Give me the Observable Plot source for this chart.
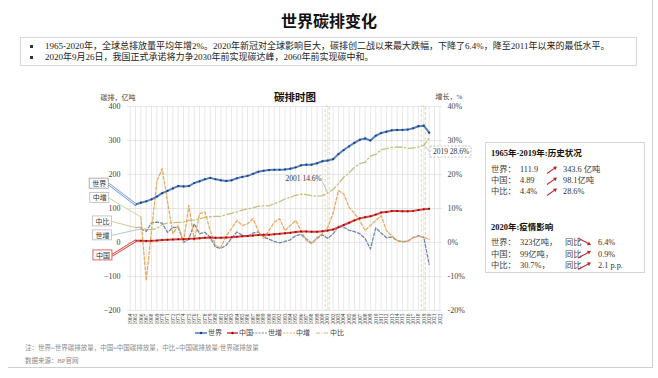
<!DOCTYPE html>
<html><head><meta charset="utf-8">
<script src="https://cdn.jsdelivr.net/npm/d3@7"></script>
<script src="https://cdn.jsdelivr.net/npm/@observablehq/plot@0.6"></script>
<style>
body{margin:0;background:#fff;width:658px;height:378px;position:relative;overflow:hidden;font-family:'Liberation Serif','Noto Sans CJK SC',serif;color:#222;}
.abs{position:absolute;white-space:nowrap;}
#chart{position:absolute;left:0;top:80px;}
</style></head><body>
<div id="chart"></div>
<script>
// ---------- data ----------
const years = [1965,1966,1967,1968,1969,1970,1971,1972,1973,1974,1975,1976,1977,1978,1979,1980,1981,1982,1983,1984,1985,1986,1987,1988,1989,1990,1991,1992,1993,1994,1995,1996,1997,1998,1999,2000,2001,2002,2003,2004,2005,2006,2007,2008,2009,2010,2011,2012,2013,2014,2015,2016,2017,2018,2019,2020];
const worldEmissions = [111.9,117,121,127,135,145,152,159,166,165,166,175,180,186,190,186,183,181,183,189,193,196,202,208,211,213,214,214,215,217,221,227,229,229,233,239,241,245,260,272,283,293,302,306,300,314,322,326,330,331,331,332,336,342,343.6,323];
const chinaEmissions = [4.89,5.3,4.6,4.8,5.6,7.4,8.3,8.8,9.2,9.4,10.9,11.3,12.5,14.0,14.4,14.3,14.1,14.9,15.7,17.0,18.4,19.4,20.7,22.3,22.8,23.1,24.4,25.6,27.5,28.9,30.8,32.3,32.3,31.6,31.8,32.9,35.2,38.2,44.5,51.5,58,65,71,74,77,82,88,90,92.3,92.6,92.1,91.7,93.0,95.7,98.1,99.0];
const chinaShare = [4.4,4.5,3.8,3.8,4.1,5.3,5.7,5.8,5.9,6.0,6.5,6.6,7.0,7.4,7.6,7.7,7.7,8.2,8.6,9.0,9.5,9.9,10.2,10.7,10.8,10.8,11.4,12.0,12.8,13.3,13.9,14.2,14.1,13.8,13.6,13.8,14.6,15.6,17.3,19.2,20.5,22.1,23.2,23.6,25.4,25.9,27.3,27.6,28.0,28.1,28.0,27.7,27.8,28.1,28.6,30.7];
const growthYears = [1966,1967,1968,1969,1970,1971,1972,1973,1974,1975,1976,1977,1978,1979,1980,1981,1982,1983,1984,1985,1986,1987,1988,1989,1990,1991,1992,1993,1994,1995,1996,1997,1998,1999,2000,2001,2002,2003,2004,2005,2006,2007,2008,2009,2010,2011,2012,2013,2014,2015,2016,2017,2018,2019,2020];
const worldGrowth = [4.0,3.3,5.8,6.0,5.7,3.0,4.4,4.5,0.0,1.0,5.5,2.6,3.0,1.5,-1.4,-1.7,-0.8,1.3,3.1,2.1,1.7,2.8,3.1,1.6,1.0,0.3,-0.1,0.3,0.8,2.0,2.4,1.0,-0.2,1.2,2.3,1.2,2.5,4.8,4.5,3.6,3.2,2.6,1.2,-1.9,4.3,2.8,1.4,1.6,0.6,0.2,0.4,1.4,2.0,1.5,-6.4];
const chinaGrowth = [7.5,-11.2,3.5,18.0,21.7,12.0,2.6,5.0,0.2,10.9,0.6,8.5,9.0,3.5,-0.9,-1.4,2.0,4.1,6.5,5.0,5.5,7.0,3.5,1.2,3.5,6.0,7.0,3.5,5.0,6.5,3.5,0.6,-0.4,1.5,2.6,4.5,8.5,15.3,14.3,10.4,8.6,6.5,3.5,5.0,6.5,7.9,3.5,2.0,0.6,0.3,0.4,1.4,1.8,1.6,0.9];
const leftTicks = [-200,-100,0,100,200,300,400];
const xTickYears = [1964,1965,1966,1967,1968,1969,1970,1971,1972,1973,1974,1975,1976,1977,1978,1979,1980,1981,1982,1983,1984,1985,1986,1987,1988,1989,1990,1991,1992,1993,1994,1995,1996,1997,1998,1999,2000,2001,2002,2003,2004,2005,2006,2007,2008,2009,2010,2011,2012,2013,2014,2015,2016,2017,2018,2019,2020,2021,2022];
const highlightYears = [2001, 2019];
const seriesNames = ["世界","中国","世增","中增","中比"];
const bulletLines = [
  "1965-2020年，全球总排放量平均年增2%。2020年新冠对全球影响巨大，碳排创二战以来最大跌幅，下降了6.4%，降至2011年以来的最低水平。",
  "2020年9月26日，我国正式承诺将力争2030年前实现碳达峰，2060年前实现碳中和。"
];
const histRows = [
  {label:"世界：", from:"111.9", to:"343.6 亿吨"},
  {label:"中国：", from:"4.89", to:"98.1亿吨"},
  {label:"中比：", from:"4.4%", to:"28.6%"}
];
const covidRows = [
  {label:"世界：", value:"323亿吨，", yoy:"同比", dir:"down", change:"6.4%"},
  {label:"中国：", value:"99亿吨，", yoy:"同比", dir:"up", change:"0.9%"},
  {label:"中比：", value:"30.7%，", yoy:"同比", dir:"up", change:"2.1 p.p."}
];

// ---------- helpers ----------
const PCT = 10; // right axis: 1% == 10 units of left axis
const col = {world:"#5383c2", worldDot:"#1f3f73", china:"#e8413c", chinaDot:"#6e1414", wg:"#6f86ad", cg:"#e9ab62", share:"#c8be80", hl:"#e2d593"};
const rows = years.map((year,i)=>({year, world:worldEmissions[i], china:chinaEmissions[i], share:chinaShare[i]*PCT}));
const growth = growthYears.map((year,i)=>({year, wg:worldGrowth[i]*PCT, cg:chinaGrowth[i]*PCT}));

const i2001 = years.indexOf(2001), i2019 = years.indexOf(2019);
const notes = [
  {text:`2001 ${chinaShare[i2001]}%`, tx:2001, ty:chinaShare[i2001]*PCT, lx:1996.5, ly:188, cx:2000.0, cy:179, box:false},
  {text:`2019 ${chinaShare[i2019]}%`, tx:2019, ty:chinaShare[i2019]*PCT, lx:2024.1, ly:266, cx:2020.2, cy:267, box:true}
];
const labels = [
  {text:"世界", lx:1958.2, ly:173, tx:years[0], ty:worldEmissions[0], stroke:"#7fa2d4", box:"#9a9a9a", dbl:true},
  {text:"中增", lx:1958.3, ly:131, tx:growthYears[0], ty:chinaGrowth[0]*PCT, stroke:"#ddc9a8", box:"#bbbbbb", dbl:false},
  {text:"中比", lx:1958.8, ly:62, tx:years[0], ty:chinaShare[0]*PCT, stroke:"#cfc894", box:"#bbbbbb", dbl:false},
  {text:"世增", lx:1958.8, ly:21, tx:growthYears[0], ty:worldGrowth[0]*PCT, stroke:"#b8c2d6", box:"#bbbbbb", dbl:false},
  {text:"中国", lx:1958.9, ly:-38, tx:years[0], ty:chinaEmissions[0], stroke:"#e04848", box:"#d04040", dbl:true}
];

const chart = Plot.plot({
  width: 480, height: 265,
  marginLeft: 127, marginRight: 38, marginTop: 26, marginBottom: 35,
  style: {background:"transparent", fontFamily:"'Liberation Serif','Noto Sans CJK SC',serif", overflow:"visible", color:"#444"},
  x: {domain:[1963.5, 2022.5]},
  y: {domain:[-200, 400]},
  marks: [
    Plot.gridX({ticks:xTickYears, stroke:"#d6d6d6", strokeOpacity:1, strokeWidth:0.6}),
    Plot.gridY({ticks:leftTicks, stroke:"#d6d6d6", strokeOpacity:1, strokeWidth:0.6}),
    Plot.axisY({ticks:leftTicks, anchor:"left", tickSize:0, tickPadding:7, fontSize:8, label:null}),
    Plot.axisY({ticks:leftTicks, anchor:"right", tickSize:0, tickPadding:5, fontSize:8, label:null, tickFormat:d=>(d/PCT)+"%"}),
    Plot.axisX({ticks:xTickYears, anchor:"bottom", tickSize:0, tickPadding:3, tickRotate:-90, fontSize:5.5, label:null, tickFormat:d=>String(d)}),
    Plot.rect(highlightYears, {x1:d=>d-0.38, x2:d=>d+0.38, y1:()=>-200, y2:()=>400, fill:"none", stroke:col.hl, strokeDasharray:"3,2", strokeWidth:0.9}),
    Plot.line(rows, {x:"year", y:"share", stroke:col.share, strokeWidth:1.3, strokeDasharray:"7,2.5,1.5,2.5"}),
    Plot.line(growth, {x:"year", y:"wg", stroke:col.wg, strokeWidth:1.3, strokeDasharray:"3,2"}),
    Plot.line(growth, {x:"year", y:"cg", stroke:col.cg, strokeWidth:1.3, strokeDasharray:"3,2"}),
    Plot.line(rows, {x:"year", y:"world", stroke:col.world, strokeWidth:2}),
    Plot.dot(rows, {x:"year", y:"world", r:1.1, fill:col.worldDot, stroke:null}),
    Plot.line(rows, {x:"year", y:"china", stroke:col.china, strokeWidth:2}),
    Plot.dot(rows, {x:"year", y:"china", r:1, fill:col.chinaDot, stroke:null}),
    // annotations
    Plot.link(notes, {x1:"tx", y1:"ty", x2:"cx", y2:"cy", stroke:"#b8b8b8", strokeWidth:0.8}),
    Plot.rect(notes.filter(d=>d.box), {x1:"lx", x2:"lx", y1:"ly", y2:"ly", insetLeft:-20.5, insetRight:-20.5, insetTop:-5.5, insetBottom:-5.5, fill:"white", stroke:"#b5b5b5", strokeDasharray:"2,1.5", strokeWidth:0.8}),
    Plot.text(notes, {x:"lx", y:"ly", text:"text", fontSize:7.5, fill:"#333"}),
    // series labels
    Plot.link(labels, {x1:d=>d.lx+1.7, y1:"ly", x2:"tx", y2:"ty", stroke:"stroke", strokeWidth:d=>d.dbl?2.6:1}),
    Plot.link(labels.filter(d=>d.dbl), {x1:d=>d.lx+1.7, y1:"ly", x2:"tx", y2:"ty", stroke:"white", strokeWidth:0.9}),
    Plot.rect(labels, {x1:"lx", x2:"lx", y1:"ly", y2:"ly", insetLeft:-9.5, insetRight:-9.5, insetTop:-5, insetBottom:-5, fill:"white", stroke:"box", strokeWidth:0.8}),
    Plot.text(labels, {x:"lx", y:"ly", text:"text", fontSize:7, fill:"#333"}),
    // titles
    Plot.text(["碳排，亿吨"], {frameAnchor:"top-left", dx:-27, dy:-11, textAnchor:"start", fontSize:7, fill:"#444"}),
    Plot.text(["碳排时图"], {frameAnchor:"top", dx:10, dy:-13, fontSize:10.5, fontWeight:"bold", fill:"#111"}),
    Plot.text(["增长，%"], {frameAnchor:"top-right", dx:-7, dy:-12, textAnchor:"start", fontSize:7, fill:"#444"})
  ]
});
document.getElementById("chart").appendChild(chart);

// ---------- HTML text ----------
function put(txt, x, y, size, extra="") {
  const d = document.createElement("div");
  d.className = "abs";
  d.style.cssText = `left:${x}px;top:${y - size*0.6}px;font-size:${size}px;line-height:${size*1.2}px;${extra}`;
  d.textContent = txt;
  document.body.appendChild(d);
  return d;
}
function box(x, y, w, h, css) {
  const d = document.createElement("div");
  d.className = "abs";
  d.style.cssText = `left:${x}px;top:${y}px;width:${w}px;height:${h}px;${css}`;
  document.body.appendChild(d);
}
function arrow(x1, y1, x2, y2, color="#c0282d") {
  const ns = "http://www.w3.org/2000/svg";
  const s = document.createElementNS(ns, "svg");
  s.setAttribute("width", 658); s.setAttribute("height", 378);
  s.style.cssText = "position:absolute;left:0;top:0;overflow:visible;pointer-events:none";
  const ang = Math.atan2(y2-y1, x2-x1);
  const l = document.createElementNS(ns, "line");
  l.setAttribute("x1", x1); l.setAttribute("y1", y1); l.setAttribute("x2", x2 - 2*Math.cos(ang)); l.setAttribute("y2", y2 - 2*Math.sin(ang));
  l.setAttribute("stroke", color); l.setAttribute("stroke-width", 1.1);
  s.appendChild(l);
  const p = document.createElementNS(ns, "path");
  const a1 = ang + 2.6, a2 = ang - 2.6, L = 4;
  p.setAttribute("d", `M${x2},${y2}L${x2+L*Math.cos(a1)},${y2+L*Math.sin(a1)}L${x2+L*Math.cos(a2)},${y2+L*Math.sin(a2)}Z`);
  p.setAttribute("fill", color);
  s.appendChild(p);
  document.body.appendChild(s);
}

// title
put("世界碳排变化", 0, 21, 16, "width:658px;text-align:center;font-family:'Noto Sans CJK SC';font-weight:700;color:#111;");
// bullet box
box(20, 37, 617, 29, "border:1px solid #d8d8d8;box-sizing:border-box;");
bulletLines.forEach((t, i) => {
  const y = 46 + i*11.5;
  box(30, y-1.5, 3, 3, "background:#333;");
  put(t, 45, y, 9, "color:#222;");
});
// right frame lines
box(652, 0, 1, 367, "background:#d0d0d0;");
box(8, 367, 645, 1, "background:#d0d0d0;");

// right panel
box(485, 142, 160, 131, "border:1px solid #d6d6d6;box-sizing:border-box;");
put("1965年-2019年:历史状况", 491, 153, 8.5, "font-weight:bold;color:#111;");
histRows.forEach((r, i) => {
  const y = 170 + i*11;
  put(r.label, 491, y, 8.3, "color:#444;");
  put(r.from, 520, y, 8.3, "color:#333;");
  arrow(547, y+3.5, 557, y-3.5);
  put(r.to, 563, y, 8.3, "color:#333;");
});
put("2020年:疫情影响", 491, 227, 8.5, "font-weight:bold;color:#111;");
covidRows.forEach((r, i) => {
  const y = 243 + i*11.5;
  put(r.label, 491, y, 8.3, "color:#444;");
  put(r.value, 520, y, 8.3, "color:#333;");
  put(r.yoy, 565, y, 8.3, "color:#444;");
  if (r.dir === "down") arrow(578, y-5, 591, y+2); else arrow(578, y+3.5, 591, y-3.5);
  put(r.change, 598, y, 8.3, "color:#333;");
});

// legend
const legendItems = [
  {name:seriesNames[0], x:195, color:col.world, dash:null, dot:col.worldDot, w:12},
  {name:seriesNames[1], x:227, color:col.china, dash:null, dot:col.chinaDot, w:11},
  {name:seriesNames[2], x:252, color:col.wg, dash:"2,1.3", dot:null, w:15},
  {name:seriesNames[3], x:280, color:col.cg, dash:"2,1.3", dot:null, w:15},
  {name:seriesNames[4], x:316, color:col.share, dash:"4,1.5,1,1.5", dot:null, w:13}
];
legendItems.forEach(it => {
  const ns = "http://www.w3.org/2000/svg";
  const s = document.createElementNS(ns, "svg");
  s.setAttribute("width", it.w); s.setAttribute("height", 6);
  s.style.cssText = `position:absolute;left:${it.x}px;top:330px;`;
  const l = document.createElementNS(ns, "line");
  l.setAttribute("x1", 0); l.setAttribute("x2", it.w); l.setAttribute("y1", 3); l.setAttribute("y2", 3);
  l.setAttribute("stroke", it.color); l.setAttribute("stroke-width", it.dash ? 1.1 : 1.6);
  if (it.dash) l.setAttribute("stroke-dasharray", it.dash);
  s.appendChild(l);
  if (it.dot) { const c = document.createElementNS(ns, "circle"); c.setAttribute("cx", it.w/2); c.setAttribute("cy", 3); c.setAttribute("r", 1.2); c.setAttribute("fill", it.dot); s.appendChild(c); }
  document.body.appendChild(s);
  put(it.name, it.x + it.w + 1, 333, 7, "color:#444;");
});

// notes
put("注：世界=世界碳排放量，中国=中国碳排放量，中比=中国碳排放量/世界碳排放量", 25, 348, 6.5, "color:#8a8a8a;");
put("数据来源：BP官网", 25, 361, 6.5, "color:#8a8a8a;");
</script>
</body></html>
